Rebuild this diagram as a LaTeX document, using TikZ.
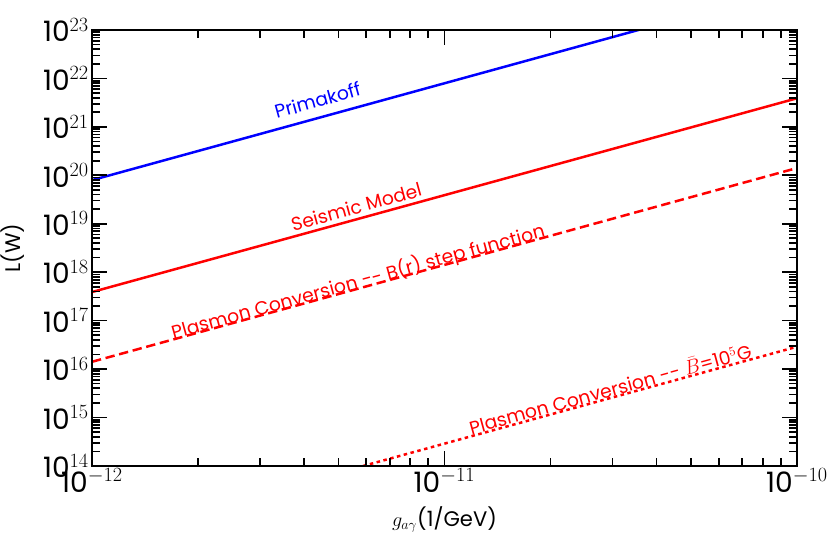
\documentclass[tikz,border=0pt]{standalone}
\usepackage{fontspec}
\setmainfont{Poppins}
\begin{document}
\begin{tikzpicture}[x=10.575cm,y=1.4532cm,
  lab/.style={font=\fontsize{16}{18}\selectfont,red,rotate=15.4,inner sep=0pt},
  tklab/.style={font=\fontsize{24}{26}\selectfont,inner sep=1pt},
  curve/.style={line width=0.075cm},
  tk/.style={line width=0.05cm}]
\useasboundingbox (-0.261,-1.445) rectangle (2.094,9.62);
% curves
\begin{scope}
\clip (0,0) rectangle (2,9);
\draw[curve,blue] (0,5.9) -- (2,9.9);
\draw[curve,red] (0,3.59) -- (2,7.59);
\draw[curve,red,dash pattern=on 8pt off 4pt] (0,2.15) -- (2,6.15);
\draw[curve,red,dash pattern=on 3pt off 3pt] (0,-1.54) -- (2,2.46);
\end{scope}
% frame and ticks
\draw[tk] (0,0) rectangle (2,9);
\foreach \d in {0,1}{
  \draw[tk] (\d,0) -- ++(0,0.31); \draw[tk] (\d,9) -- ++(0,-0.31);
  \foreach \k in {2,...,9}{
    \draw[tk] ({\d+log10(\k)},0) -- ++(0,0.17);
    \draw[tk] ({\d+log10(\k)},9) -- ++(0,-0.17);}}
\foreach \d in {0,...,8}{
  \draw[tk] (0,\d) -- ++(0.0425,0); \draw[tk] (2,\d) -- ++(-0.0425,0);
  \foreach \k in {2,...,9}{
    \draw[tk] (0,{\d+log10(\k)}) -- ++(0.0225,0);
    \draw[tk] (2,{\d+log10(\k)}) -- ++(-0.0225,0);}}
\foreach \d [evaluate=\d as \e using int(\d+14)] in {0,...,9}
  \node[tklab,anchor=east] (yl\d) at (-0.005,\d) {10$^{\e}$};
\node[tklab,anchor=north] (xl0) at (0,-0.03) {10$^{-12}$};
\node[tklab,anchor=north] (xl1) at (1,-0.03) {10$^{-11}$};
\node[tklab,anchor=north] (xl2) at (2,-0.03) {10$^{-10}$};
\node[font=\fontsize{18}{20}\selectfont,rotate=90] (ylab) at (-0.225,4.5) {L(W)};
\node[font=\fontsize{18}{20}\selectfont] (xlab) at (1,-1.1) {$g_{a\gamma}$(1/GeV)};
% labels
\node[lab,blue] (pk) at (0.64,7.55) {Primakoff};
\node[lab] (sm) at (0.75,5.35) {Seismic Model};
\node[lab] (ps) at (0.755,3.8) {Plasmon Conversion -{}- B(r) step function};
\node[lab] (pb) at (1.47,1.6) {Plasmon Conversion -{}- $\bar{B}$=10$^5$G};
\end{tikzpicture}
\end{document}
